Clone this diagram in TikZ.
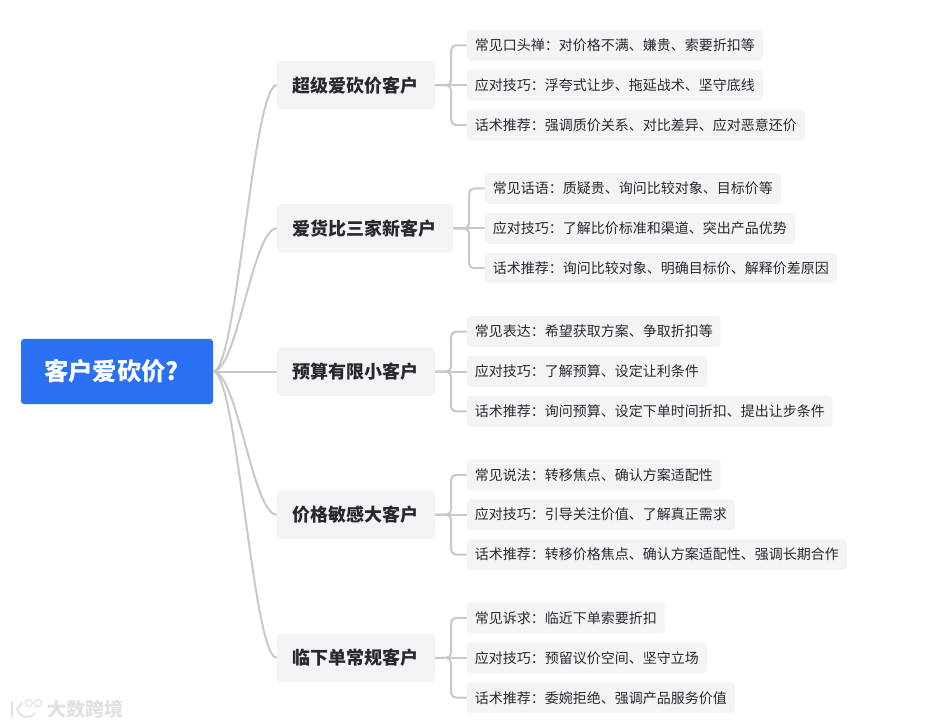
\documentclass[tikz,border=0pt]{standalone}
\usepackage{fontspec}
\setmainfont{Noto Sans CJK SC}
\usetikzlibrary{positioning}
\definecolor{blue1}{HTML}{2970F2}
\definecolor{pale}{HTML}{F3F4F6}
\definecolor{ink}{HTML}{262A30}
\definecolor{edge}{HTML}{C8C8C8}
\definecolor{wmgray}{HTML}{E2E2E2}
\tikzset{
  rootb/.style={rectangle,rounded corners=3pt,fill=blue1,text=white,inner xsep=23pt,text width=146pt,align=left,minimum height=65pt,
                font=\fontsize{24.4}{28}\selectfont\bfseries},
  catb/.style={rectangle,rounded corners=4pt,fill=pale,text=ink,inner xsep=16pt,minimum height=48.5pt,
               font=\fontsize{18}{22}\selectfont\bfseries},
  leafb/.style={rectangle,rounded corners=4pt,fill=pale,text=ink,inner xsep=8pt,minimum height=31pt,
                font=\fontsize{14}{17}\selectfont},
  fl/.style={line width=2pt,draw=edge},
  tr/.style={fl,rounded corners=5pt},
  cv/.style={fl,out=0,in=180,out distance=24pt,in distance=24pt},
  wm/.style={text=wmgray,inner sep=0pt,font=\fontsize{19}{22}\selectfont\bfseries},
  wl/.style={draw=wmgray,line width=1.8pt,line cap=round},
}
\begin{document}
\begin{tikzpicture}[x=1pt,y=-1pt,node distance=8.5pt and 31.5pt]
\useasboundingbox (0,0) rectangle (948,727);
\node[rootb] (root) at (117,371.5) {客户爱砍价?};
\node[catb,right=63.5pt of root] (c3) {预算有限小客户};
\node[catb,above=94.25pt of c3.north west,anchor=south west] (c2) {爱货比三家新客户};
\node[catb,above=94.25pt of c2.north west,anchor=south west] (c1) {超级爱砍价客户};
\node[catb,below=94.25pt of c3.south west,anchor=north west] (c4) {价格敏感大客户};
\node[catb,below=94.25pt of c4.south west,anchor=north west] (c5) {临下单常规客户};
% first group
\node[leafb,right=of c1] (a2) {应对技巧：浮夸式让步、拖延战术、坚守底线};
\node[leafb,above=of a2.north west,anchor=south west] (a1) {常见口头禅：对价格不满、嫌贵、索要折扣等};
\node[leafb,below=of a2.south west,anchor=north west] (a3) {话术推荐：强调质价关系、对比差异、应对恶意还价};
% second group
\node[leafb,right=of c2] (b2) {应对技巧：了解比价标准和渠道、突出产品优势};
\node[leafb,above=of b2.north west,anchor=south west] (b1) {常见话语：质疑贵、询问比较对象、目标价等};
\node[leafb,below=of b2.south west,anchor=north west] (b3) {话术推荐：询问比较对象、明确目标价、解释价差原因};
% third group
\node[leafb,right=of c3] (d2) {应对技巧：了解预算、设定让利条件};
\node[leafb,above=of d2.north west,anchor=south west] (d1) {常见表达：希望获取方案、争取折扣等};
\node[leafb,below=of d2.south west,anchor=north west] (d3) {话术推荐：询问预算、设定下单时间折扣、提出让步条件};
% fourth group
\node[leafb,right=of c4] (e2) {应对技巧：引导关注价值、了解真正需求};
\node[leafb,above=of e2.north west,anchor=south west] (e1) {常见说法：转移焦点、确认方案适配性};
\node[leafb,below=of e2.south west,anchor=north west] (e3) {话术推荐：转移价格焦点、确认方案适配性、强调长期合作};
% fifth group
\node[leafb,right=of c5] (f2) {应对技巧：预留议价空间、坚守立场};
\node[leafb,above=of f2.north west,anchor=south west] (f1) {常见诉求：临近下单索要折扣};
\node[leafb,below=of f2.south west,anchor=north west] (f3) {话术推荐：委婉拒绝、强调产品服务价值};
% links
\draw[fl](root)--(c3);
\foreach \c in {c1,c2,c4,c5}{\draw[cv](root.east) to (\c.west);}
\foreach \c/\l in {c1/a,c2/b,c3/d,c4/e,c5/f}{
  \draw[fl](\c)--(\l2);
  \draw[tr](\c.east)--++(16,0)|-(\l1.west);
  \draw[tr](\c.east)--++(16,0)|-(\l3.west);
}
% watermark
\node[wm,anchor=west] (wmark) at (47,709) {大数跨境};
\draw[wl] (12,702)--(12,717);
\draw[wl] (22,703)--(17,709) .. controls (19,716) and (28,721) .. (35,713);
\draw[wl,line width=1.2pt] (29,703) circle (3.5pt) (38,703) circle (3.5pt);
\end{tikzpicture}
\end{document}
